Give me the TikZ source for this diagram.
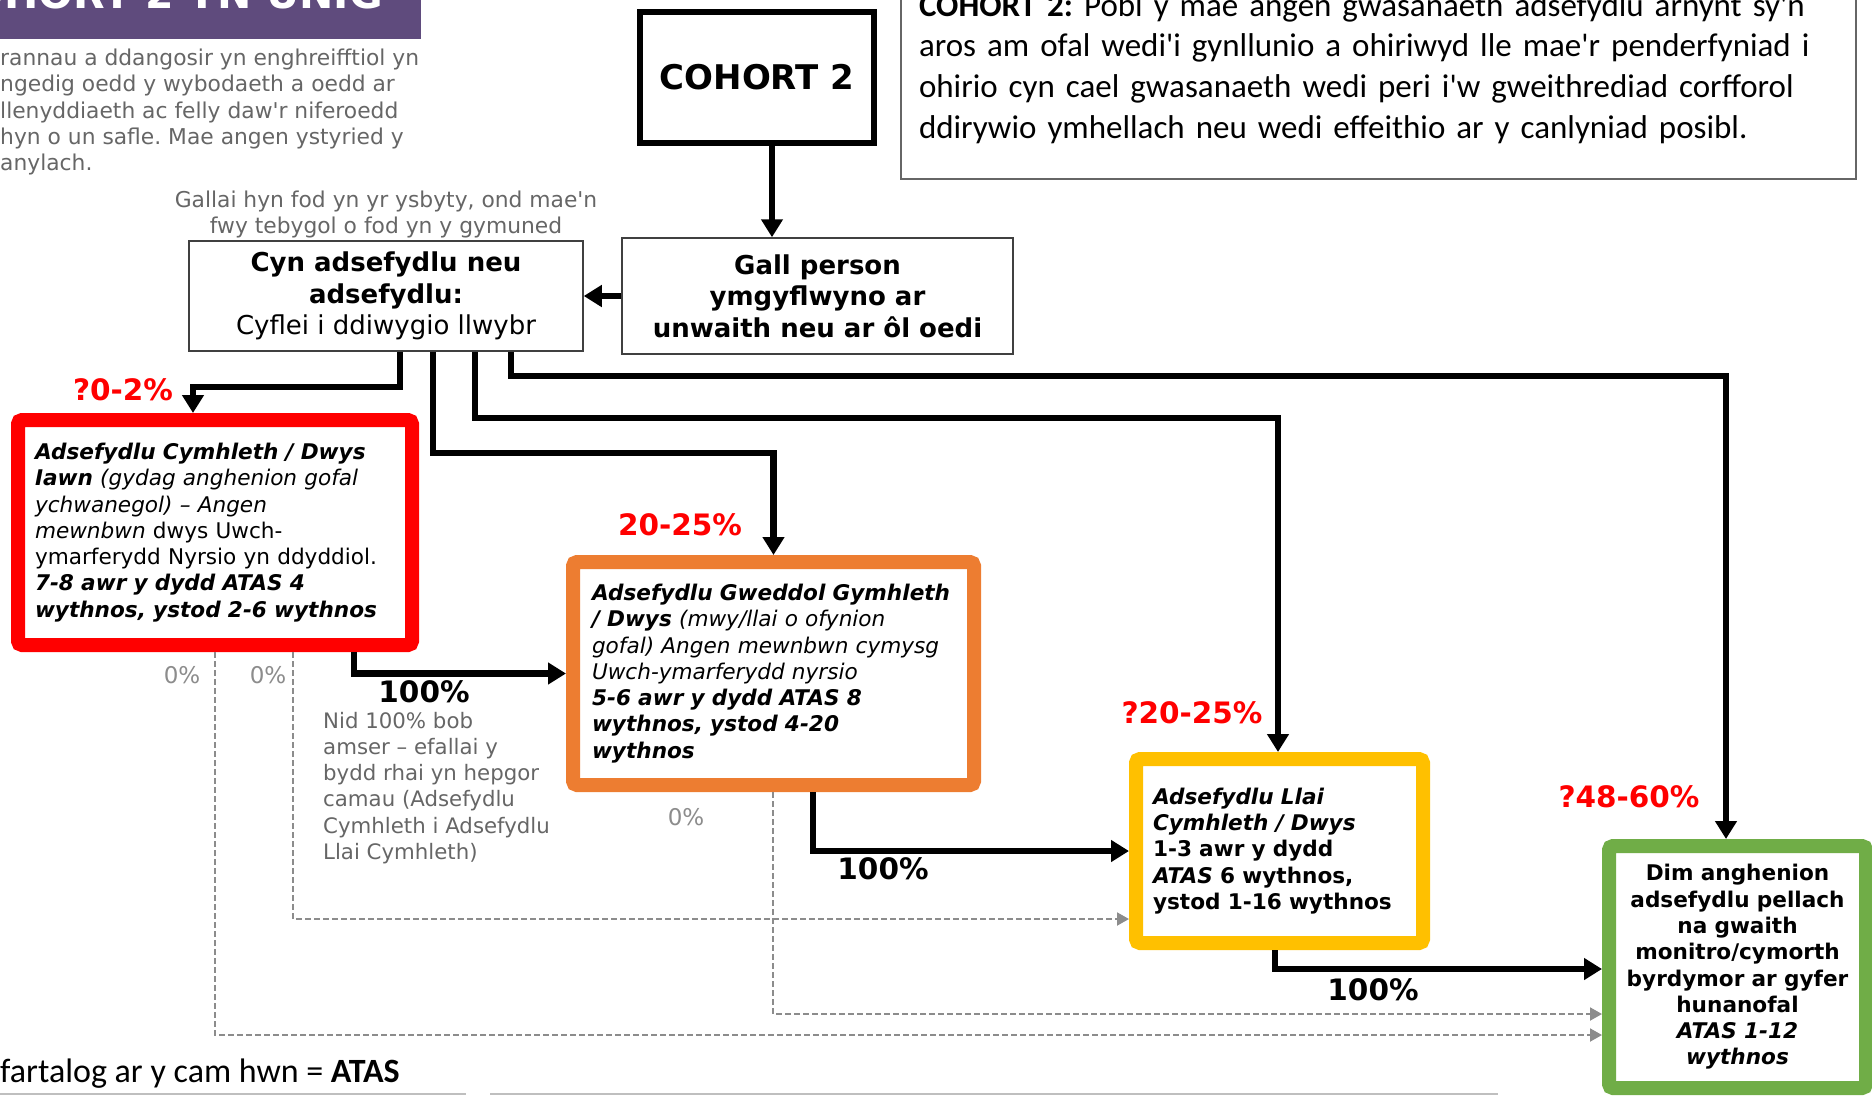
\documentclass[tikz,border=0pt]{standalone}
\usepackage{fontspec}
\setmainfont{DejaVu Sans}[Ligatures=TeXOff]
\newfontfamily\calibri{Carlito}[Ligatures=TeXOff]
\usepackage{tikz}
\usetikzlibrary{positioning,arrows.meta}
\definecolor{coch}{HTML}{FF0000}
\definecolor{oren}{HTML}{ED7D31}
\definecolor{melyn}{HTML}{FFC000}
\definecolor{gwyrdd}{HTML}{70AD47}
\definecolor{porffor}{HTML}{5F4B7D}
\definecolor{llwyd}{HTML}{666666}
\definecolor{llwydgolau}{HTML}{8C8C8C}
\newcommand{\fs}[2]{\fontsize{#1}{#2}\selectfont}
\frenchspacing

\begin{document}
\begin{tikzpicture}[x=1pt,y=-1pt,
  stage/.style={draw, line width=14pt, rounded corners=4pt, fill=white,
    inner sep=0pt, align=left, font=\fs{21.6}{26.3}},
  plain/.style={draw=black!75, line width=1.5pt, fill=white, inner sep=0pt,
    align=center, font=\bfseries\fs{26}{31.5}},
  flow/.style={line width=6.5pt, -{Triangle[length=18pt,width=21pt]}},
  skip/.style={draw=llwydgolau, line width=2pt, dash pattern=on 6pt off 3pt,
    -{Triangle[length=12pt,width=13pt,fill=llwydgolau]}},
  pct/.style={text=coch, font=\bfseries\fs{29.5}{29.5}},
  pctblack/.style={font=\bfseries\fs{29.5}{29.5}},
  zero/.style={text=llwydgolau, font=\fs{23}{23}},
  note/.style={text=llwyd, font=\fs{21.8}{26.2}, align=left, inner sep=0pt}]
\useasboundingbox (0,0) rectangle (1872,1096);
\clip (0,0) rectangle (1872,1096);

% title strip and intro text (cut off at the edge)
\fill[porffor] (0,0) rectangle (421,39);
\node[anchor=base east, text=white, inner sep=0pt, font=\bfseries\fs{41}{41}] (teitl) at (383,8) {COHORT 2 YN UNIG};
\node[note, anchor=north west] (rhagair) at (0,49)
{rannau a ddangosir yn enghreifftiol yn\\ngedig oedd y wybodaeth a oedd ar\\llenyddiaeth ac felly daw'r niferoedd\\hyn o un safle. Mae angen ystyried y\\anylach.};

\node[draw=black!60, line width=1.5pt, minimum width=955, minimum height=221, text width=919pt,
  align=left, inner sep=0pt, font=\calibri\fs{33}{40.7}] (disgrifiad) at (1378.5,68.5)
{\textbf{COHORT 2:} Pobl y mae angen gwasanaeth adsefydlu arnynt sy'n\\aros am ofal wedi'i gynllunio a ohiriwyd lle mae'r penderfyniad i\\ohirio cyn cael gwasanaeth wedi peri i'w gweithrediad corfforol\\ddirywio ymhellach neu wedi effeithio ar y canlyniad posibl.};

% top of the flow
\node[draw, line width=6pt, minimum width=234, minimum height=131, font=\bfseries\fs{34}{34}] (cohort) at (757,77.5) {COHORT 2};
\node[plain, minimum width=391, minimum height=116] (gall) at (817.5,296)
{Gall person\\ymgyflwyno ar\\unwaith neu ar ôl oedi};
\node[plain, minimum width=394, minimum height=110] (cyn) at (386,296)
{Cyn adsefydlu neu\\adsefydlu:\\\mdseries Cyflei i ddiwygio llwybr};
\node[note, align=center, above=2pt of cyn] (lleoliad)
{Gallai hyn fod yn yr ysbyty, ond mae'n\\fwy tebygol o fod yn y gymuned};

% stages
\node[stage, draw=coch, minimum width=394, minimum height=225, text width=360pt] (iawn) at (215,532.5)
{\textbf{\textit{Adsefydlu Cymhleth / Dwys}}\\\textbf{\textit{Iawn}} \textit{(gydag anghenion gofal}\\\textit{ychwanegol) – Angen}\\\textit{mewnbwn} dwys Uwch-\\ymarferydd Nyrsio yn ddyddiol.\\\textbf{\textit{7-8 awr y dydd ATAS 4}}\\\textbf{\textit{wythnos, ystod 2-6 wythnos}}};
\node[stage, draw=oren, minimum width=401, minimum height=223, text width=363pt] (gweddol) at (773.5,673.5)
{\textbf{\textit{Adsefydlu Gweddol Gymhleth}}\\\textbf{\textit{/ Dwys}} \textit{(mwy/llai o ofynion}\\\textit{gofal) Angen mewnbwn cymysg}\\\textit{Uwch-ymarferydd nyrsio}\\\textbf{\textit{5-6 awr y dydd ATAS 8}}\\\textbf{\textit{wythnos, ystod 4-20}}\\\textbf{\textit{wythnos}}};
\node[stage, draw=melyn, minimum width=287, minimum height=184, text width=253pt, font=\bfseries\fs{21.6}{26.3}] (llai) at (1279.5,851)
{\textit{Adsefydlu Llai}\\\textit{Cymhleth / Dwys}\\1-3 awr y dydd\\\textit{ATAS} 6 wythnos,\\ystod 1-16 wythnos};
\node[stage, draw=gwyrdd, minimum width=257, minimum height=242, text width=250pt, align=center, font=\bfseries\fs{21.6}{26.3}] (dim) at (1737.5,967)
{Dim anghenion\\adsefydlu pellach\\na gwaith\\monitro/cymorth\\byrdymor ar gyfer\\hunanofal\\\textit{ATAS 1-12}\\\textit{wythnos}};

% dashed skips
\draw[skip] (iawn.south) |- ([yshift=-68pt]dim.west);
\draw[skip] ([xshift=78pt]iawn.south) |- ([yshift=-68pt]llai.west);
\draw[skip] ([xshift=-0.5pt]gweddol.south) |- ([yshift=-47pt]dim.west);

% solid flow
\draw[flow] ([xshift=15pt]cohort.south) -- ([xshift=15pt]cohort.south |- gall.north);
\draw[flow] (gall.west) -- (cyn.east);
\draw[flow] ([xshift=14pt]cyn.south) -- ++(0,35) -| ([xshift=-22pt]iawn.north);
\draw[flow] ([xshift=47pt]cyn.south) -- ++(0,101) -| (gweddol.north);
\draw[flow] ([xshift=89pt]cyn.south) -- ++(0,66) -| ([xshift=-1.5pt]llai.north);
\draw[flow] ([xshift=125pt]cyn.south) -- ++(0,24) -| ([xshift=-11.5pt]dim.north);
\draw[flow] ([xshift=139pt]iawn.south) |- (gweddol.west);
\draw[flow] ([xshift=39.5pt]gweddol.south) |- (llai.west);
\draw[flow] ([xshift=-4.5pt]llai.south) |- ([yshift=-2pt]dim.west);

% shares
\node[pct] (p1) at (123,390) {?0-2\%};
\node[pct] (p2) at (680,525) {20-25\%};
\node[pct] (p3) at (1192,713) {?20-25\%};
\node[pct] (p4) at (1629,797) {?48-60\%};
\node[pctblack] (c1) at (424,692) {100\%};
\node[pctblack] (c2) at (883,869) {100\%};
\node[pctblack] (c3) at (1373,990) {100\%};
\node[zero] (z1) at (182,675) {0\%};
\node[zero] (z2) at (268,675) {0\%};
\node[zero] (z3) at (686,817) {0\%};

\node[note, anchor=north west, font=\fs{21.3}{26.2}] (hepgor) at (323,712)
{Nid 100\% bob\\amser – efallai y\\bydd rhai yn hepgor\\camau (Adsefydlu\\Cymhleth i Adsefydlu\\Llai Cymhleth)};

% footer
\node[anchor=base west, inner sep=0pt, font=\calibri\fs{34}{34}] (cyfartaledd) at (0,1082) {fartalog ar y cam hwn = \textbf{ATAS}};
\draw[black!25, line width=2pt] (0,1094) -- (466,1094);
\draw[black!25, line width=2pt] (490,1094) -- (1498,1094);
\end{tikzpicture}
\end{document}
